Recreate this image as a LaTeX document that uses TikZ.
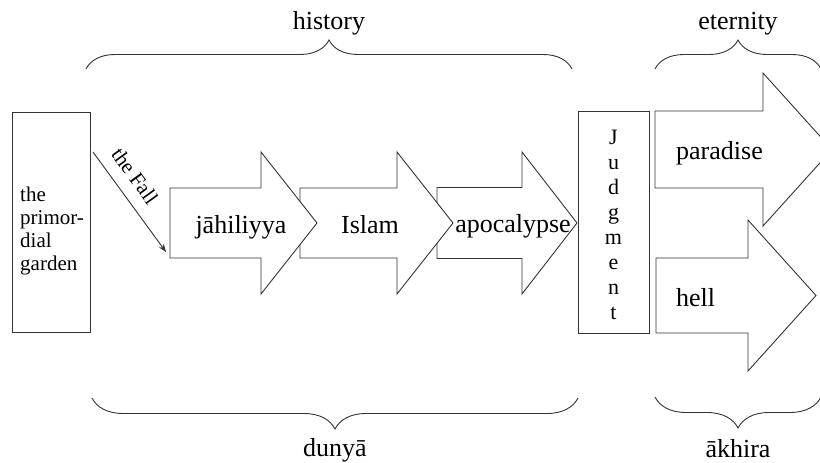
\documentclass[tikz,border=0pt]{standalone}
\usepackage{fontspec}
\setmainfont{Liberation Serif}
\usetikzlibrary{arrows.meta,decorations.pathreplacing}

% Block arrow: left x, head base x, tip x, centre y, body half-height, head half-height
\newcommand{\fatarrow}[6]{%
  \draw[arrowshape] (#1,{#4-#5}) -- (#2,{#4-#5}) -- (#2,{#4-#6}) -- (#3,#4)
    -- (#2,{#4+#6}) -- (#2,{#4+#5}) -- (#1,{#4+#5}) -- cycle;}

\tikzset{
  ink/.style={draw=black!80, line width=0.9pt},
  arrowshape/.style={ink, fill=white, line join=miter},
  tallbox/.style={ink, fill=white, inner sep=0},
  biglabel/.style={font=\fontsize{26}{30}\selectfont, inner sep=0},
  boxtext/.style={font=\fontsize{21}{23}\selectfont, inner sep=0},
  bracepath/.style={ink, decorate, decoration={brace, amplitude=#1}},
}

\begin{document}
\begin{tikzpicture}[x=1pt, y=-1pt]
  \clip (0,0) rectangle (820,463);
  \fill[white] (0,0) rectangle (820,463);

  % the primordial garden
  \node[tallbox, minimum width=78, minimum height=220] (garden) at (51,222) {};
  \node[boxtext, align=left, anchor=west] (gardentext) at (20,231)
    {the\\primor-\\dial\\garden};

  % history: three stages, each overlapping the next
  \fatarrow{437}{522}{577}{223}{35.5}{71}
  \fatarrow{300}{397}{453}{223}{35}{71}
  \fatarrow{170}{261}{317}{223}{35}{71}
  \node[biglabel, anchor=base] (jahiliyya) at (241,233) {jāhiliyya};
  \node[biglabel, anchor=base] (islam) at (370,233) {Islam};
  \node[biglabel, anchor=base] (apocalypse) at (513,232) {apocalypse};

  % the Fall
  \coordinate (fallstart) at (93,152);
  \coordinate (fallend) at (166,252);
  \draw[ink, -{Stealth[length=8, width=6]}] (fallstart) -- (fallend);
  \node[boxtext, rotate=-54] (fall) at (135,176) {the Fall};

  % Judgment
  \node[tallbox, minimum width=71, minimum height=222] (judgment) at (613.5,222) {};
  \node[boxtext, align=center, font=\fontsize{22}{25}\selectfont]
    (judgmenttext) at (613.5,225) {J\\u\\d\\g\\m\\e\\n\\t};

  % the two outcomes
  \fatarrow{655}{763}{832}{149.5}{38.5}{76.5}
  \fatarrow{656}{748}{816}{295.5}{37.5}{75.5}
  \node[biglabel, anchor=base west] (paradise) at (676,159) {paradise};
  \node[biglabel, anchor=base west] (hell) at (676,306) {hell};

  % braces and their captions
  \draw[bracepath=29] (86,69) -- (572,69);
  \draw[bracepath=29] (655,69) -- (821,69);
  \draw[bracepath=31] (578,398) -- (92,398);
  \draw[bracepath=31] (821,397) -- (655,397);
  \node[biglabel, anchor=base] (history) at (329,30) {history};
  \node[biglabel, anchor=base] (eternity) at (738,29) {eternity};
  \node[biglabel, anchor=base] (dunya) at (335,456) {dunyā};
  \node[biglabel, anchor=base] (akhira) at (738,457) {ākhira};
\end{tikzpicture}
\end{document}
